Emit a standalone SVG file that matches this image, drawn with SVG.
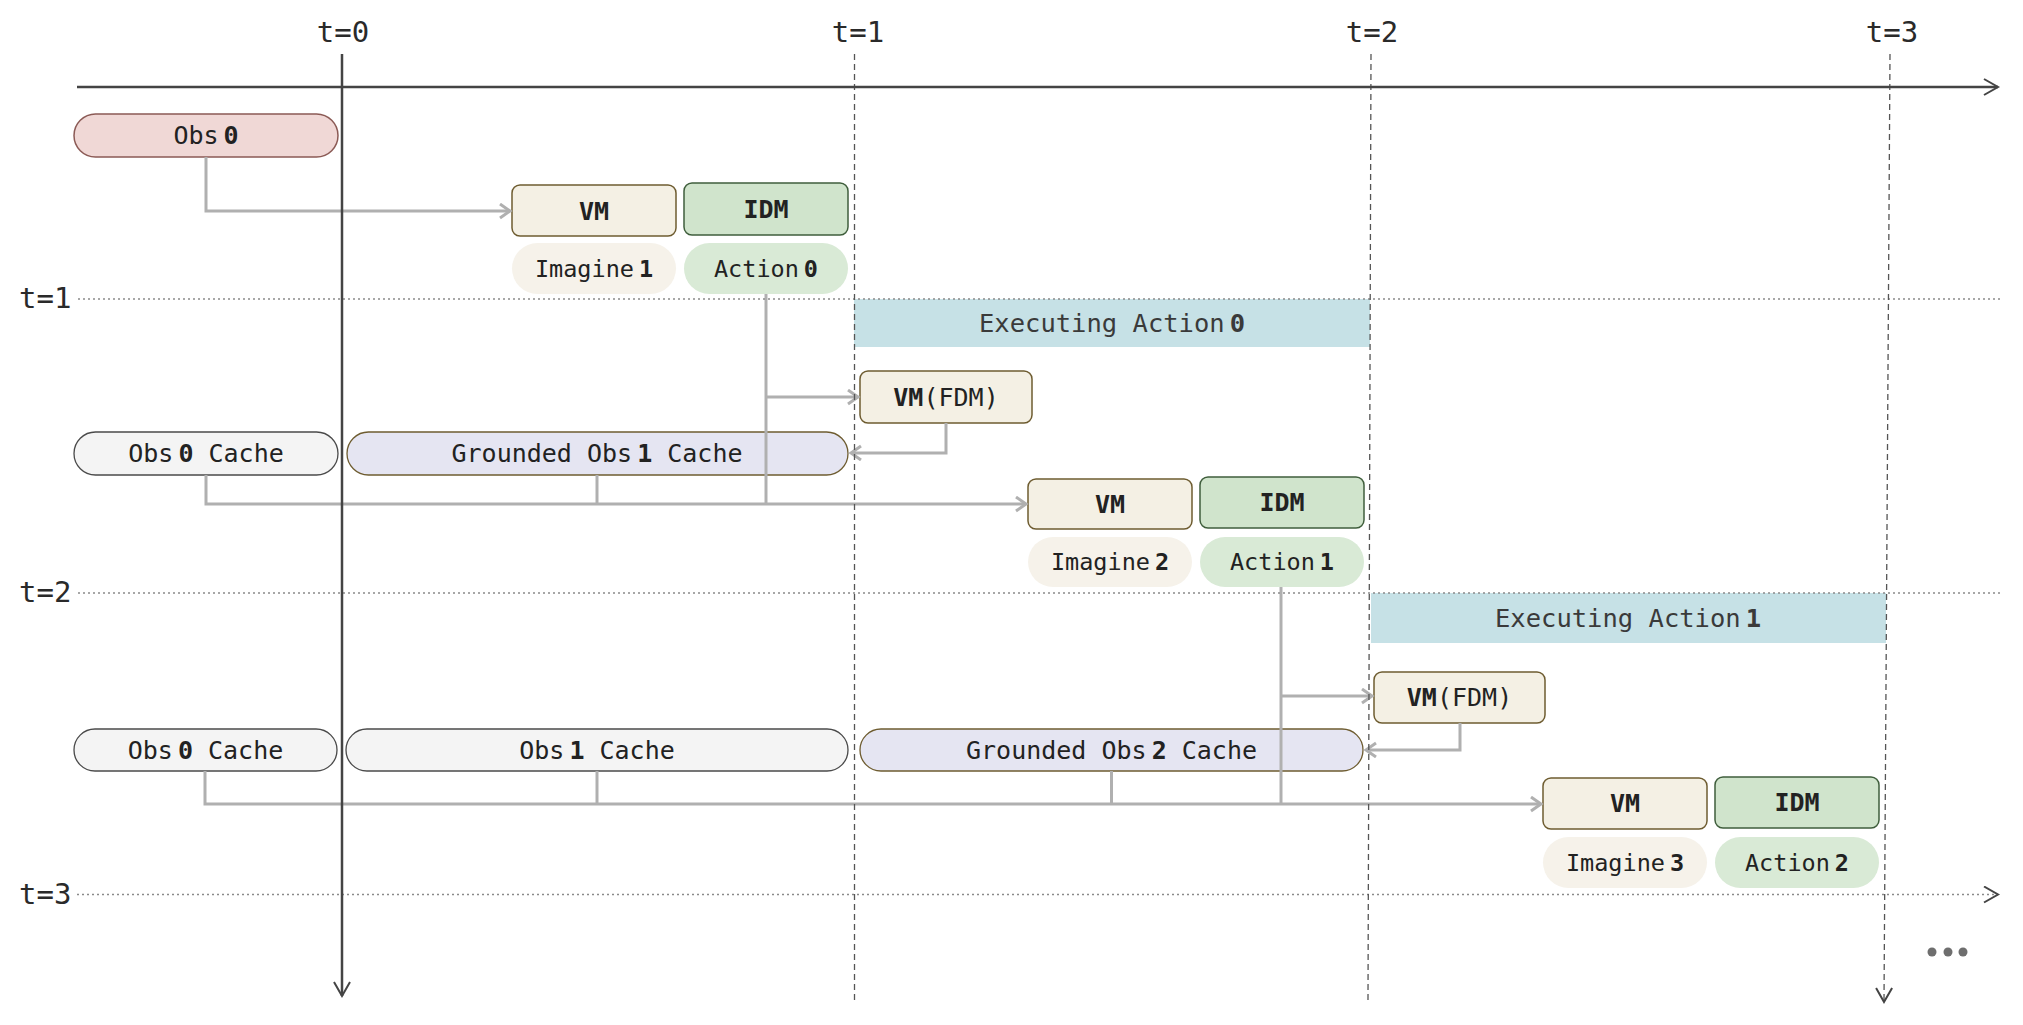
<svg xmlns="http://www.w3.org/2000/svg" width="2023" height="1025" viewBox="0 0 2023 1025">
<style>
text{font-family:"DejaVu Sans Mono","Liberation Mono",monospace;fill:#222;text-anchor:middle}
.ax{font-size:29px;fill:#2a2a2a}
.axl{font-size:29px;fill:#2a2a2a;text-anchor:start}
.n{font-size:25px}
.s{font-size:23.5px}
.ex{font-size:25.5px;fill:#3a3a3a}
.b{font-weight:bold}
.obs{fill:#f0d8d6;stroke:#8b5a55;stroke-width:1.5}
.vm{fill:#f4f0e4;stroke:#6e5c30;stroke-width:1.5}
.idm{fill:#d0e4cc;stroke:#3f5e3c;stroke-width:1.5}
.img{fill:#f6f2ea}
.act{fill:#d9ead6}
.cache{fill:#f4f4f4;stroke:#4a4a4a;stroke-width:1.3}
.gr{fill:#e5e5f2;stroke:#6e5c30;stroke-width:1.3}
.exe{fill:#c6e1e6}
.con{fill:none;stroke:#b0b0b0;stroke-width:3}
.dot{fill:none;stroke:#8a8a8a;stroke-width:1.3;stroke-dasharray:2 3}
.dash{fill:none;stroke:#555;stroke-width:1.3;stroke-dasharray:6 4}
.axis{fill:none;stroke:#444;stroke-width:2.5}
</style>
<defs>
<marker id="ag" markerUnits="userSpaceOnUse" markerWidth="16" markerHeight="18" refX="12" refY="8" orient="auto">
<path d="M2,1 L12,8 L2,15" fill="none" stroke="#b0b0b0" stroke-width="3"/>
</marker>
<marker id="ak" markerUnits="userSpaceOnUse" markerWidth="18" markerHeight="20" refX="15" refY="9" orient="auto">
<path d="M1,1 L15,9 L1,17" fill="none" stroke="#444" stroke-width="2"/>
</marker>
</defs>

<g id="executing">
<g id="exec0"><rect class="exe" x="854" y="299" width="516" height="48"/><text class="ex" x="1112" y="332">Executing Action<tspan class="b" dx="5">0</tspan></text></g>
<g id="exec1"><rect class="exe" x="1371" y="593" width="515" height="50"/><text class="ex" x="1628" y="627">Executing Action<tspan class="b" dx="5">1</tspan></text></g>
</g>

<g id="obs0"><rect class="obs" x="74" y="114" width="264" height="43" rx="21.5"/><text class="n" x="206" y="144">Obs<tspan class="b" dx="5">0</tspan></text></g>

<g id="vm1"><rect class="vm" x="512" y="185" width="164" height="51" rx="8"/><text class="n b" x="594" y="220">VM</text></g>
<g id="idm1"><rect class="idm" x="684" y="183" width="164" height="52" rx="8"/><text class="n b" x="766" y="218">IDM</text></g>
<g id="imagine1"><rect class="img" x="512" y="243" width="164" height="51" rx="25.5"/><text class="s" x="594" y="277">Imagine<tspan class="b" dx="5">1</tspan></text></g>
<g id="action0"><rect class="act" x="684" y="243" width="164" height="51" rx="25.5"/><text class="s" x="766" y="277">Action<tspan class="b" dx="5">0</tspan></text></g>

<g id="vmfdm1"><rect class="vm" x="860" y="371" width="172" height="52" rx="8"/><text class="n" x="946" y="406"><tspan class="b">VM</tspan>(FDM)</text></g>

<g id="obs0cache1"><rect class="cache" x="74" y="432" width="264" height="43" rx="21.5"/><text class="n" x="206" y="462">Obs<tspan class="b" dx="5">0</tspan> Cache</text></g>
<g id="grounded1"><rect class="gr" x="347" y="432" width="501" height="43" rx="21.5"/><text class="n" x="597" y="462">Grounded Obs<tspan class="b" dx="5">1</tspan> Cache</text></g>

<g id="vm2"><rect class="vm" x="1028" y="479" width="164" height="50" rx="8"/><text class="n b" x="1110" y="513">VM</text></g>
<g id="idm2"><rect class="idm" x="1200" y="477" width="164" height="51" rx="8"/><text class="n b" x="1282" y="511">IDM</text></g>
<g id="imagine2"><rect class="img" x="1028" y="537" width="164" height="50" rx="25"/><text class="s" x="1110" y="570">Imagine<tspan class="b" dx="5">2</tspan></text></g>
<g id="action1"><rect class="act" x="1200" y="537" width="164" height="50" rx="25"/><text class="s" x="1282" y="570">Action<tspan class="b" dx="5">1</tspan></text></g>

<g id="vmfdm2"><rect class="vm" x="1374" y="672" width="171" height="51" rx="8"/><text class="n" x="1459.5" y="706"><tspan class="b">VM</tspan>(FDM)</text></g>

<g id="obs0cache2"><rect class="cache" x="74" y="729" width="263" height="42" rx="21"/><text class="n" x="205.5" y="759">Obs<tspan class="b" dx="5">0</tspan> Cache</text></g>
<g id="obs1cache"><rect class="cache" x="346" y="729" width="502" height="42" rx="21"/><text class="n" x="597" y="759">Obs<tspan class="b" dx="5">1</tspan> Cache</text></g>
<g id="grounded2"><rect class="gr" x="860" y="729" width="503" height="42" rx="21"/><text class="n" x="1111.5" y="759">Grounded Obs<tspan class="b" dx="5">2</tspan> Cache</text></g>

<g id="vm3"><rect class="vm" x="1543" y="778" width="164" height="51" rx="8"/><text class="n b" x="1625" y="812">VM</text></g>
<g id="idm3"><rect class="idm" x="1715" y="777" width="164" height="51" rx="8"/><text class="n b" x="1797" y="811">IDM</text></g>
<g id="imagine3"><rect class="img" x="1543" y="837" width="164" height="51" rx="25.5"/><text class="s" x="1625" y="871">Imagine<tspan class="b" dx="5">3</tspan></text></g>
<g id="action2"><rect class="act" x="1715" y="837" width="164" height="51" rx="25.5"/><text class="s" x="1797" y="871">Action<tspan class="b" dx="5">2</tspan></text></g>

<g id="connectors">
<path class="con" d="M206,157 V211 H510" marker-end="url(#ag)"/>
<path class="con" d="M766,294 V504"/>
<path class="con" d="M766,397 H858" marker-end="url(#ag)"/>
<path class="con" d="M946,423 V453 H851" marker-end="url(#ag)"/>
<path class="con" d="M206,475 V504 H1026" marker-end="url(#ag)"/>
<path class="con" d="M597,475 V504"/>
<path class="con" d="M1281,587 V804"/>
<path class="con" d="M1281,696 H1372" marker-end="url(#ag)"/>
<path class="con" d="M1460,723 V750 H1366" marker-end="url(#ag)"/>
<path class="con" d="M205,771 V804 H1541" marker-end="url(#ag)"/>
<path class="con" d="M597,771 V804"/>
<path class="con" d="M1111.5,771 V804"/>
</g>

<g id="guides">
<path class="dot" d="M78,299 H2000"/>
<path class="dot" d="M78,593 H2000"/>
<path class="dot" d="M77,894.5 H1998" marker-end="url(#ak)"/>
<path class="dash" d="M854.5,54 V1000"/>
<path class="dash" d="M1371,54 L1368,1000"/>
<path class="dash" d="M1890,54 L1884,1002" marker-end="url(#ak)"/>
</g>

<g id="axes">
<path class="axis" d="M77,87 H1998" marker-end="url(#ak)"/>
<path class="axis" d="M342,54 V996" marker-end="url(#ak)"/>
</g>

<g id="labels">
<text class="ax" x="343" y="42">t=0</text>
<text class="ax" x="858" y="42">t=1</text>
<text class="ax" x="1372" y="42">t=2</text>
<text class="ax" x="1892" y="42">t=3</text>
<text class="axl" x="19" y="308">t=1</text>
<text class="axl" x="19" y="602">t=2</text>
<text class="axl" x="19" y="904">t=3</text>
</g>

<g id="ellipsis" fill="#6e6e6e">
<circle cx="1932" cy="952" r="4.5"/>
<circle cx="1948" cy="952" r="4.5"/>
<circle cx="1963" cy="952" r="4.5"/>
</g>
</svg>
